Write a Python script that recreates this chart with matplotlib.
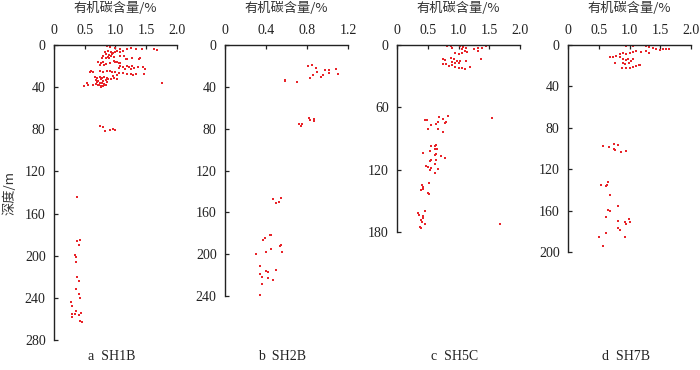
import matplotlib
matplotlib.use("Agg")
import matplotlib.pyplot as plt

plt.rcParams['font.family'] = ['Liberation Serif', 'Noto Sans CJK SC']

# ---- data: organic carbon (%) vs depth (m) ----
sh1b_toc = [0.86, 0.91, 0.99, 1.07, 1.18, 1.26, 1.34, 1.43, 1.62, 1.67,
            1.02, 1.07, 1.13, 0.83, 0.87, 0.92, 0.96, 1.0, 0.85, 0.9, 0.95, 0.8, 0.88, 0.93, 0.78, 0.84, 0.9, 0.97,
            1.08, 1.14, 1.17, 1.18, 1.39, 1.27, 1.40,
            0.72, 0.76, 0.8, 0.85, 0.91, 0.74, 0.82,
            0.98, 1.03, 1.08, 1.0, 1.06,
            1.08, 1.13, 1.18, 1.22, 1.27, 1.30, 1.05, 1.15, 1.25, 1.36, 1.45, 1.48,
            0.59, 0.60, 0.64, 0.75, 0.8, 0.86, 0.91, 0.95, 1.0,
            1.06, 1.12, 1.18, 1.25, 1.33, 1.46, 1.02, 1.29,
            0.66, 0.7, 0.74, 0.78, 0.82, 0.86, 0.68, 0.72, 0.76, 0.8, 0.84, 0.88, 0.7, 0.74, 0.78, 0.82,
            0.86, 0.72, 0.77, 0.81, 0.85, 0.92, 0.97, 1.03, 0.96, 0.76, 0.8, 0.69, 0.73,
            0.54, 0.64, 0.48, 0.56, 1.76,
            0.75, 0.79, 0.83, 0.91, 0.96, 0.99,
            0.38, 0.37, 0.42, 0.41, 0.34, 0.35, 0.36, 0.37, 0.41, 0.36, 0.40, 0.42,
            0.28, 0.30, 0.36, 0.34, 0.29, 0.30, 0.40, 0.44, 0.42, 0.45]
sh1b_depth = [0.6, 1.6, 2.5, 3.5, 3.5, 3.0, 3.5, 3.5, 4.0, 4.8,
              5.4, 6.3, 5.7, 6.5, 6.0, 6.8, 7.5, 7.0, 8.5, 9.2, 8.8, 10.5, 11.0, 10.2, 12.0, 12.6, 12.3, 11.5,
              10.4, 10.4, 13.7, 13.7, 13.7, 12.7, 12.7,
              16.0, 17.0, 16.3, 18.2, 17.0, 19.0, 18.8,
              15.5, 16.5, 17.4, 15.8, 16.9,
              19.5, 20.5, 19.8, 21.0, 20.3, 21.5, 22.0, 22.5, 22.4, 21.2, 21.0, 23.0,
              26.0, 24.5, 25.5, 24.5, 25.2, 24.8, 25.0, 25.6, 25.3,
              27.0, 26.6, 27.4, 27.2, 27.8, 27.8, 28.6, 28.6,
              30.5, 31.2, 30.8, 31.5, 30.2, 31.0, 33.0, 33.8, 32.6, 34.0, 33.2, 32.5, 35.5, 36.3, 35.8, 36.8,
              35.0, 38.0, 38.6, 37.6, 38.2, 32.0, 31.6, 32.3, 29.6, 39.4, 39.0, 37.0, 38.4,
              36.0, 38.0, 38.7, 38.0, 36.0,
              76.5, 77.8, 81.6, 80.3, 79.7, 81.0,
              143.8, 186.0, 185.0, 190.0, 199.0, 201.0, 206.0, 220.0, 224.0, 232.0, 236.5, 240.0,
              244.0, 248.0, 252.0, 255.0, 255.5, 258.0, 256.0, 254.0, 262.0, 262.5]

sh2b_toc = [0.81, 0.85, 0.89, 0.90, 0.86, 0.83, 0.98, 1.01, 1.01, 0.94, 0.96, 1.08, 1.10,
            0.59, 0.59, 0.70,
            0.82, 0.83, 0.87, 0.87, 0.72, 0.74, 0.75,
            0.47, 0.55, 0.50, 0.53,
            0.44, 0.45, 0.37, 0.39, 0.45, 0.40, 0.54, 0.55, 0.56, 0.30,
            0.34, 0.50, 0.40, 0.42, 0.34, 0.36, 0.42, 0.47, 0.36, 0.34]
sh2b_depth = [20.0, 19.5, 21.8, 26.0, 28.5, 31.7, 24.3, 23.7, 27.2, 30.4, 29.0, 22.7, 27.5,
              33.3, 34.0, 35.0,
              70.0, 72.0, 70.7, 73.0, 75.5, 77.0, 76.0,
              147.5, 146.0, 150.7, 150.0,
              182.0, 181.4, 186.0, 185.0, 195.5, 198.0, 192.3, 191.7, 198.0, 200.0,
              211.0, 214.7, 216.0, 217.0, 219.0, 221.8, 222.4, 224.3, 228.5, 238.7]

sh5c_toc = [0.82, 0.87, 0.89, 1.03, 1.08, 1.12, 1.26, 1.31, 1.32, 1.39, 1.45,
            1.05, 1.10, 1.06, 1.14, 0.95, 1.00, 1.36,
            0.75, 0.78, 0.87, 0.92, 0.97, 1.03, 1.13,
            0.74, 0.79, 0.84, 0.89, 0.95, 1.00, 1.05, 1.10, 1.18, 0.89, 0.95, 1.01,
            0.83, 0.68, 0.74, 0.45, 0.48, 0.63, 0.66, 0.55, 0.50, 0.78, 0.80, 0.67, 0.75, 1.54,
            0.56, 0.61, 0.63, 0.62, 0.65, 0.53, 0.43, 0.61, 0.63, 0.71, 0.78,
            0.53, 0.56, 0.63, 0.62, 0.47, 0.50, 0.53, 0.55, 0.61, 0.66,
            0.52, 0.41, 0.43, 0.39, 0.43, 0.50, 0.52,
            0.46, 0.34, 0.36, 0.42, 0.43, 0.39, 0.41, 0.46, 0.38, 0.39, 1.68]
sh5c_depth = [1.0, 1.3, 2.6, 1.0, 1.6, 2.6, 4.2, 5.8, 3.2, 2.6, 1.2,
              4.2, 5.8, 7.4, 6.8, 7.4, 9.0, 13.9,
              13.2, 14.8, 12.3, 13.9, 15.5, 15.8, 15.5,
              18.7, 18.4, 20.3, 19.7, 21.0, 21.9, 22.3, 22.9, 21.6, 16.5, 17.7, 17.7,
              68.0, 69.4, 71.3, 72.6, 72.6, 75.8, 74.5, 77.4, 80.6, 75.2, 73.9, 81.0, 83.5, 70.6,
              96.8, 97.7, 96.5, 100.3, 99.7, 101.6, 104.2, 105.8, 104.8, 106.8, 108.7,
              111.3, 110.6, 110.6, 114.5, 116.0, 117.0, 120.0, 118.7, 123.5, 119.7,
              133.0, 134.8, 137.0, 139.7, 139.0, 142.3, 143.9,
              160.0, 161.6, 164.0, 165.0, 167.0, 168.7, 170.0, 172.6, 175.2, 176.0, 172.0]

sh7b_toc = [0.89, 0.95, 1.00, 1.06, 1.27, 1.32, 1.38, 1.43, 1.49, 1.55, 1.59, 1.64,
            1.06, 1.11, 1.19, 1.27, 1.31, 0.84, 0.89, 0.95, 1.00,
            0.68, 0.73, 0.78, 0.84, 0.89, 0.94, 0.97, 1.03, 0.99, 1.05,
            0.77, 0.89, 0.92, 1.11, 1.15, 1.17, 0.88, 0.95, 1.00, 1.05,
            0.57, 0.66, 0.74, 0.81, 0.74, 0.77, 0.86, 0.95,
            0.63, 0.61, 0.54, 0.65, 0.69, 0.81, 0.65, 0.68, 0.62,
            0.81, 0.99, 0.92, 0.94, 0.81, 0.84, 1.01, 0.61, 0.50, 0.92, 0.57]
sh7b_depth = [0.0, 0.6, 0.3, 1.0, 1.0, 1.6, 2.9, 4.2, 4.9, 4.2, 3.6, 4.2,
              6.8, 5.8, 6.8, 6.1, 7.4, 9.0, 8.0, 9.0, 8.0,
              11.3, 12.0, 10.7, 11.3, 13.3, 14.6, 13.9, 15.9, 17.2, 13.3,
              17.2, 17.8, 18.8, 20.4, 19.1, 19.7, 22.0, 22.7, 22.0, 21.4,
              98.0, 99.0, 96.0, 97.0, 100.6, 101.3, 103.0, 102.0,
              135.0, 136.0, 135.6, 132.0, 145.0, 155.7, 159.5, 160.8, 166.0,
              170.0, 168.0, 171.0, 172.5, 176.4, 178.3, 171.0, 182.0, 185.4, 185.4, 194.0]

panels = [
    ("a  SH1B", sh1b_toc, sh1b_depth, 2.0, [0, 0.5, 1.0, 1.5, 2.0], ["0", "0.5", "1.0", "1.5", "2.0"],
     280, [0, 40, 80, 120, 160, 200, 240, 280]),
    ("b  SH2B", sh2b_toc, sh2b_depth, 1.2, [0, 0.4, 0.8, 1.2], ["0", "0.4", "0.8", "1.2"],
     240, [0, 40, 80, 120, 160, 200, 240]),
    ("c  SH5C", sh5c_toc, sh5c_depth, 2.0, [0, 0.5, 1.0, 1.5, 2.0], ["0", "0.5", "1.0", "1.5", "2.0"],
     180, [0, 60, 120, 180]),
    ("d  SH7B", sh7b_toc, sh7b_depth, 2.0, [0, 0.5, 1.0, 1.5, 2.0], ["0", "0.5", "1.0", "1.5", "2.0"],
     200, [0, 40, 80, 120, 160, 200]),
]

W, H = 700, 370
lefts = [54, 225, 397, 568]
bottoms = [340, 296, 232, 252]
top = 45
width = 123

fig = plt.figure(figsize=(7, 3.7), dpi=100)

for i, (lab, xs, ys, xmax, xt, xtl, ymax, yt) in enumerate(panels):
    ax = fig.add_axes([lefts[i] / W, 1 - bottoms[i] / H, width / W, (bottoms[i] - top) / H])
    ax.plot(xs, ys, linestyle='none', marker='s', ms=2.0, mew=0, color='#e8242a')
    ax.set_xlim(0, xmax)
    ax.set_ylim(ymax, 0)
    ax.xaxis.tick_top()
    ax.set_xticks(xt)
    ax.set_xticklabels(xtl)
    ax.set_yticks(yt)
    ax.spines['right'].set_visible(False)
    ax.spines['bottom'].set_visible(False)
    for s in ('left', 'top'):
        ax.spines[s].set_linewidth(1.0)
        ax.spines[s].set_color('#222222')
    ax.tick_params(axis='x', direction='in', length=3, width=0.9, pad=6, labelsize=10, colors='#222222')
    ax.tick_params(axis='y', direction='in', length=3, width=0.9, pad=6, labelsize=10, colors='#222222')
    cx = (lefts[i] + width / 2) / W
    fig.text(cx, 1 - 8 / H, "有机碳含量/%", ha='center', va='center', fontsize=9.5,
             family=['Noto Sans CJK SC', 'DejaVu Sans'], color='#333333')
    fig.text(cx - 4 / W, 1 - 357 / H, lab, ha='center', va='center', fontsize=10, color='#222222')

fig.text(10 / W, 1 - 193 / H, "深度/m", rotation=90, ha='center', va='center', fontsize=9.5,
         family=['Noto Sans CJK SC', 'DejaVu Sans'], color='#333333')

fig.savefig("out.png", dpi=100)
